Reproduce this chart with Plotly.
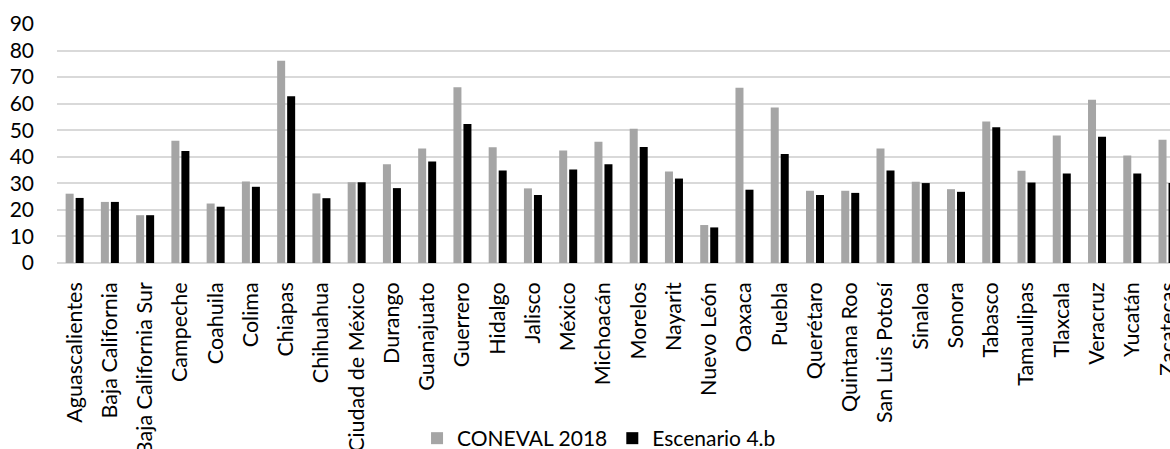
import plotly.graph_objects as go

# Porcentaje de población por entidad federativa
estados = [
    "Aguascalientes", "Baja California", "Baja California Sur", "Campeche",
    "Coahuila", "Colima", "Chiapas", "Chihuahua", "Ciudad de México",
    "Durango", "Guanajuato", "Guerrero", "Hidalgo", "Jalisco", "México",
    "Michoacán", "Morelos", "Nayarit", "Nuevo León", "Oaxaca", "Puebla",
    "Querétaro", "Quintana Roo", "San Luis Potosí", "Sinaloa", "Sonora",
    "Tabasco", "Tamaulipas", "Tlaxcala", "Veracruz", "Yucatán", "Zacatecas",
]

coneval_2018 = [
    26.1, 23.0, 18.0, 46.0, 22.4, 30.7, 76.2, 26.2, 30.4, 37.2, 43.1,
    66.2, 43.6, 28.1, 42.4, 45.7, 50.6, 34.5, 14.3, 66.0, 58.6, 27.2,
    27.2, 43.1, 30.6, 27.8, 53.3, 34.7, 48.0, 61.5, 40.5, 46.4,
]

escenario_4b = [
    24.5, 23.0, 18.0, 42.2, 21.2, 28.7, 62.8, 24.4, 30.4, 28.2, 38.2,
    52.3, 34.8, 25.6, 35.2, 37.2, 43.7, 31.8, 13.4, 27.6, 41.0, 25.6,
    26.4, 34.8, 30.1, 26.8, 51.1, 30.3, 33.7, 47.5, 33.7, 30.1,
]

y_ticks = [0, 10, 20, 30, 40, 50, 60, 70, 80, 90]

FONT = "Lato, Carlito, Calibri, sans-serif"
FS = 21

fig = go.Figure()
fig.add_trace(go.Bar(
    x=estados, y=coneval_2018, name="CONEVAL 2018",
    marker=dict(color="#A5A5A5", line=dict(width=0)),
))
fig.add_trace(go.Bar(
    x=estados, y=escenario_4b, name="Escenario 4.b",
    marker=dict(color="#000000", line=dict(width=0)),
))

fig.update_layout(
    width=1170, height=449,
    margin=dict(l=57, r=0, t=24, b=186, autoexpand=False),
    paper_bgcolor="white", plot_bgcolor="white",
    barmode="group", bargap=0.4325, bargroupgap=0.2,
    font=dict(family=FONT, size=FS, color="#000000"),
    showlegend=True,
    legend=dict(
        orientation="h", x=0.512, xanchor="center", xref="container",
        y=0.069, yanchor="top", yref="container",
        font=dict(family=FONT, size=FS, color="#000000"),
        itemwidth=30, bgcolor="rgba(0,0,0,0)",
    ),
)

fig.update_xaxes(
    type="category", range=[-0.5, 31.07], automargin=False,
    tickangle=-90, ticks="", ticklabelstandoff=14,
    showgrid=False, showline=False, zeroline=False,
    tickfont=dict(family=FONT, size=21.5, color="#000000"),
)
fig.update_yaxes(
    range=[0, 90], tickvals=y_ticks, automargin=False,
    ticks="", ticklabelstandoff=22,
    showgrid=True, gridcolor="#D9D9D9", gridwidth=1.5,
    zeroline=True, zerolinecolor="#D9D9D9", zerolinewidth=1.5,
    showline=False,
    tickfont=dict(family=FONT, size=FS, color="#000000"),
)

fig.write_html("out.html")
